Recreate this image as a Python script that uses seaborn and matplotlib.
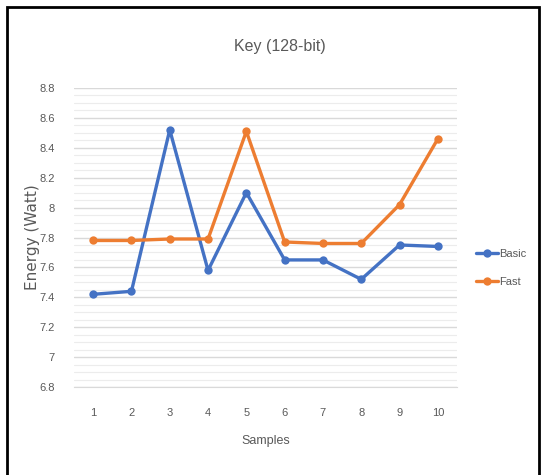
import matplotlib
matplotlib.use("Agg")
import matplotlib.pyplot as plt
import seaborn as sns
import pandas as pd
from matplotlib.patches import Rectangle
from matplotlib.ticker import MultipleLocator
from matplotlib.lines import Line2D

samples = [1, 2, 3, 4, 5, 6, 7, 8, 9, 10]
basic = [7.42, 7.44, 8.52, 7.58, 8.10, 7.65, 7.65, 7.52, 7.75, 7.74]
fast = [7.78, 7.78, 7.79, 7.79, 8.51, 7.77, 7.76, 7.76, 8.02, 8.46]
series_names = ["Basic", "Fast"]
y_ticks = [6.8, 7.0, 7.2, 7.4, 7.6, 7.8, 8.0, 8.2, 8.4, 8.6, 8.8]
y_tick_labels = ["6.8", "7", "7.2", "7.4", "7.6", "7.8", "8", "8.2", "8.4", "8.6", "8.8"]

df = pd.DataFrame({
    "Samples": samples * 2,
    "Energy": basic + fast,
    "Series": [series_names[0]] * len(samples) + [series_names[1]] * len(samples),
})

sns.set_style("white")
plt.rcParams['font.family'] = ['Liberation Sans', 'DejaVu Sans']
grey = "#595959"

fig = plt.figure(figsize=(5.41, 4.75), dpi=100)
ax = fig.add_axes([74 / 541, 1 - 387 / 475, (457 - 74) / 541, (387 - 88) / 475])

palette = {"Basic": "#4472C4", "Fast": "#ED7D31"}
sns.lineplot(data=df, x="Samples", y="Energy", hue="Series", palette=palette,
             marker="o", markersize=6, markeredgewidth=0, linewidth=2.4,
             ax=ax, legend=False, zorder=3)

ax.set_xlim(0.5, 10.5)
ax.set_ylim(6.8, 8.8)
ax.set_xticks(samples)
ax.set_xticklabels([str(s) for s in samples])
ax.set_yticks(y_ticks)
ax.set_yticklabels(y_tick_labels)
ax.yaxis.set_minor_locator(MultipleLocator(0.05))
ax.grid(True, axis="y", which="major", color="#d9d9d9", linewidth=1.0, zorder=0)
ax.grid(True, axis="y", which="minor", color="#ececec", linewidth=0.8, zorder=0)
ax.tick_params(axis="y", which="both", length=0, colors=grey, labelsize=8, pad=14)
ax.tick_params(axis="x", which="both", length=0, colors=grey, labelsize=8, pad=15)
for s in ax.spines.values():
    s.set_visible(False)
ax.spines["bottom"].set_visible(True)
ax.spines["bottom"].set_color("#d9d9d9")

ax.set_xlabel("Samples", color=grey, fontsize=9, labelpad=12)
ax.set_ylabel("Energy (Watt)", color=grey, fontsize=11,
              family=["DejaVu Sans"])
ax.yaxis.set_label_coords((40 - 74) / 383, 0.5)
fig.text(280 / 541, 1 - 46 / 475, "Key (128-bit)", ha="center", va="center",
         color=grey, fontsize=11.5)

handles = [Line2D([], [], color=palette[n], marker="o", markersize=6,
                  markeredgewidth=0, linewidth=2.4) for n in series_names]
fig.legend(handles, series_names, loc="center left",
           bbox_to_anchor=(466 / 541, 1 - 268 / 475), frameon=False,
           labelcolor=grey, fontsize=8, handlelength=2.0, handletextpad=0.1,
           labelspacing=1.6)

fig.patches.append(Rectangle((7 / 541, -0.05), (539 - 7) / 541, 1.05 - 7 / 475,
                             transform=fig.transFigure, fill=False,
                             edgecolor="black", linewidth=2.0))

fig.savefig("out.png", dpi=100)
